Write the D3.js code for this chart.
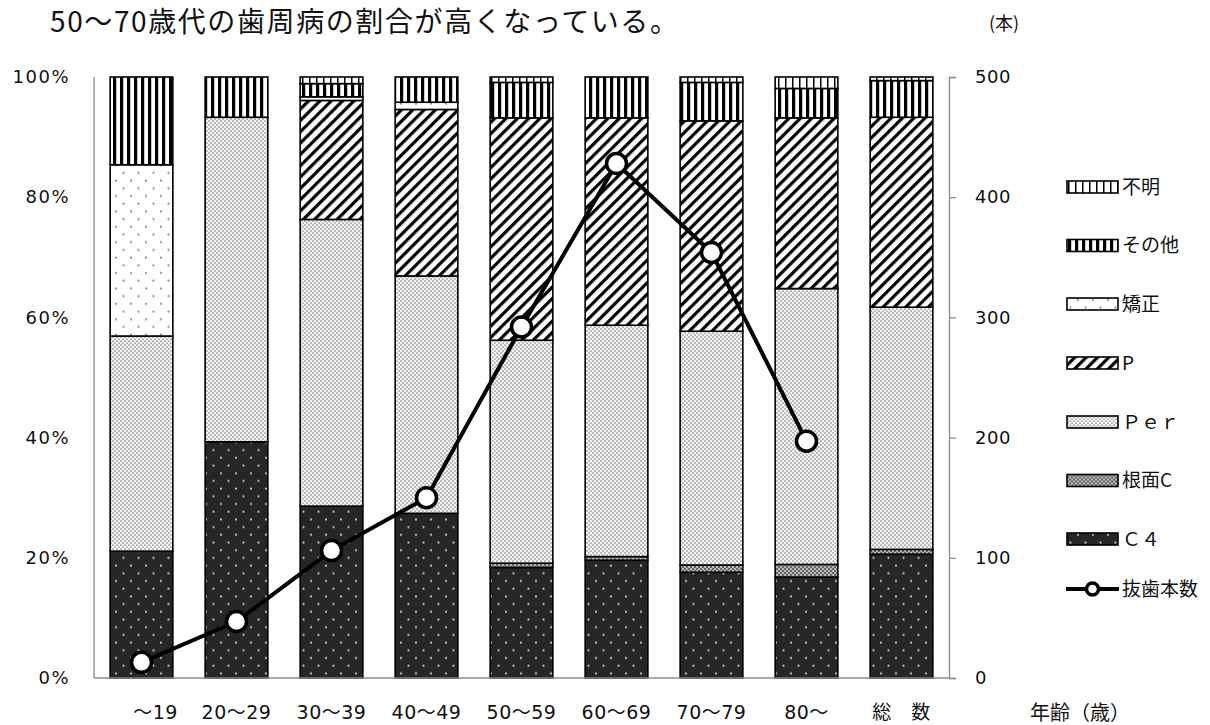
<!DOCTYPE html>
<html lang="ja">
<head>
<meta charset="utf-8">
<script src="https://cdn.jsdelivr.net/npm/d3@7"></script>
<style>
  html, body { margin: 0; padding: 0; background: #fff; }
  svg text { font-family: "Noto Sans CJK JP", "Noto Sans", sans-serif; fill: #111; }
  .num { font-family: "DejaVu Sans", "Noto Sans CJK JP", sans-serif; }
</style>
</head>
<body>
<svg id="chart" width="1210" height="725"></svg>
<script>
// 年齢階級ごとの抜歯理由の構成比（%）と抜歯本数
const categories = ["～19", "20～29", "30～39", "40～49", "50～59", "60～69", "70～79", "80～", "総　数"];

const c4       = [21.1, 39.3, 28.6, 27.4, 18.4, 19.6, 17.6, 16.8, 20.6];
const rootC    = [0,    0,    0,    0,    0.7,  0.6,  1.2,  2.1,  0.8];
const perio    = [35.8, 54.0, 47.7, 39.5, 37.1, 38.5, 38.9, 45.9, 40.3];
const pulp     = [0,    0,    19.8, 27.7, 37.0, 34.5, 35.0, 28.4, 31.6];
const ortho    = [28.5, 0,    0.6,  1.2,  0,    0,    0,    0,    0];
const other    = [14.6, 6.7,  2.2,  4.2,  5.9,  6.8,  6.4,  4.9,  6.1];
const unknown  = [0,    0,    1.1,  0,    0.9,  0,    0.9,  1.9,  0.6];

// 抜歯本数（総数は線に含めない）
const extractions = [13, 47, 106, 150, 292, 428, 354, 197];

const leftTicks  = [0, 20, 40, 60, 80, 100];
const rightTicks = [0, 100, 200, 300, 400, 500];

const seriesKeys   = ["c4", "rootC", "perio", "pulp", "ortho", "other", "unknown"];
const seriesLabels = { c4: "Ｃ４", rootC: "根面C", perio: "Ｐｅｒ", pulp: "P", ortho: "矯正", other: "その他", unknown: "不明" };
const seriesData   = { c4, rootC, perio, pulp, ortho, other, unknown };

const rows = categories.map((cat, i) => {
  const r = { cat };
  seriesKeys.forEach(k => r[k] = seriesData[k][i]);
  return r;
});

const svg = d3.select("#chart");
const defs = svg.append("defs");

// ---- hatch / dot patterns ----
function dotLattice(id, bg, dot, r) {
  const p = defs.append("pattern").attr("id", id).attr("patternUnits", "userSpaceOnUse")
    .attr("width", 15).attr("height", 15.4);
  p.append("rect").attr("width", 15).attr("height", 15.4).attr("fill", bg);
  p.append("circle").attr("cx", 3.5).attr("cy", 3.5).attr("r", r).attr("fill", dot);
  p.append("circle").attr("cx", 11).attr("cy", 11.2).attr("r", r).attr("fill", dot);
}
dotLattice("pat-c4", "#262626", "#c9c9c9", 1.1);
dotLattice("pat-ortho", "#ffffff", "#8a8a8a", 1.1);

function fineDots(id, bg, dot, size) {
  const p = defs.append("pattern").attr("id", id).attr("patternUnits", "userSpaceOnUse")
    .attr("width", 4).attr("height", 4);
  p.append("rect").attr("width", 4).attr("height", 4).attr("fill", bg);
  p.append("circle").attr("cx", 1).attr("cy", 1).attr("r", size).attr("fill", dot);
  p.append("circle").attr("cx", 3).attr("cy", 3).attr("r", size).attr("fill", dot);
}
fineDots("pat-perio", "#f4f4f4", "#888888", 0.85);
fineDots("pat-rootC", "#b8b8b8", "#4a4a4a", 1);

(function diag() {
  const p = defs.append("pattern").attr("id", "pat-pulp").attr("patternUnits", "userSpaceOnUse")
    .attr("width", 8).attr("height", 8).attr("patternTransform", "rotate(45)");
  p.append("rect").attr("width", 8).attr("height", 8).attr("fill", "#fff");
  p.append("rect").attr("x", 0).attr("width", 3.2).attr("height", 8).attr("fill", "#000");
})();

function vstripes(id, period, w) {
  const p = defs.append("pattern").attr("id", id).attr("patternUnits", "userSpaceOnUse")
    .attr("width", period).attr("height", 10);
  p.append("rect").attr("width", period).attr("height", 10).attr("fill", "#fff");
  p.append("rect").attr("x", 1).attr("width", w).attr("height", 10).attr("fill", "#000");
}
vstripes("pat-other", 7, 3.2);
vstripes("pat-unknown", 7, 1.5);

const fillOf = k => `url(#pat-${k})`;

// ---- scales ----
const plot = { left: 94, right: 949, top: 77, bottom: 678 };

const x = d3.scaleBand().domain(categories)
  .range([plot.left, plot.right]).paddingInner(0.34).paddingOuter(0.17);
const yPct = d3.scaleLinear().domain([0, 100]).range([plot.bottom, plot.top]);
const yCount = d3.scaleLinear().domain([0, 500]).range([plot.bottom, plot.top]);

// ---- stacked bars ----
const stacked = d3.stack().keys(seriesKeys)(rows);

const layers = svg.append("g").selectAll("g").data(stacked).join("g")
  .attr("fill", d => fillOf(d.key));

layers.selectAll("rect")
  .data(d => d.filter(s => s[1] - s[0] > 0))
  .join("rect")
  .attr("x", d => x(d.data.cat))
  .attr("width", x.bandwidth())
  .attr("y", d => yPct(d[1]))
  .attr("height", d => yPct(d[0]) - yPct(d[1]))
  .attr("stroke", "#000")
  .attr("stroke-width", 1.6);

// ---- axes ----
const axisColor = "#8c8c8c";

svg.append("line").attr("x1", plot.left).attr("x2", plot.left)
  .attr("y1", plot.top).attr("y2", plot.bottom).attr("stroke", axisColor).attr("stroke-width", 1.3);
svg.append("line").attr("x1", plot.left).attr("x2", plot.right)
  .attr("y1", plot.bottom).attr("y2", plot.bottom).attr("stroke", axisColor).attr("stroke-width", 1.3);

const leftAxis = svg.append("g").attr("transform", `translate(${plot.left},0)`)
  .call(d3.axisLeft(yPct).tickValues(leftTicks).tickFormat(d => d + "%").tickSize(0).tickPadding(24));
leftAxis.select(".domain").remove();
leftAxis.selectAll("text").attr("class", "num").style("font-size", "18px")
  .style("letter-spacing", "1.5px").attr("fill", "#111");

const rightAxis = svg.append("g").attr("transform", `translate(${plot.right},0)`)
  .call(d3.axisRight(yCount).tickValues(rightTicks).tickSize(7).tickPadding(19));
rightAxis.select(".domain").attr("stroke", axisColor).attr("stroke-width", 1.3);
rightAxis.selectAll(".tick line").attr("stroke", axisColor).attr("stroke-width", 1.3);
rightAxis.selectAll("text").attr("class", "num").style("font-size", "18px")
  .style("letter-spacing", "0.5px").attr("fill", "#111");

const bottomAxis = svg.append("g").attr("transform", `translate(0,${plot.bottom})`)
  .call(d3.axisBottom(x).tickSize(0).tickPadding(28));
bottomAxis.select(".domain").remove();
bottomAxis.selectAll("text").attr("class", "num").style("font-size", "19px")
  .style("letter-spacing", "0.5px").attr("fill", "#111")
  .attr("dx", d => d === categories[0] ? 14 : 0);

// ---- extraction count line ----
const linePts = extractions.map((v, i) => ({ cat: categories[i], v }));
const line = d3.line().x(d => x(d.cat) + x.bandwidth() / 2).y(d => yCount(d.v));

svg.append("path").datum(linePts).attr("d", line)
  .attr("fill", "none").attr("stroke", "#000").attr("stroke-width", 4).attr("stroke-linejoin", "round");

svg.append("g").selectAll("circle").data(linePts).join("circle")
  .attr("cx", d => x(d.cat) + x.bandwidth() / 2)
  .attr("cy", d => yCount(d.v))
  .attr("r", 10)
  .attr("fill", "#fff").attr("stroke", "#000").attr("stroke-width", 3.5);

// ---- texts ----
svg.append("text").attr("x", 50).attr("y", 32)
  .style("font-size", "28px").style("letter-spacing", "1.6px")
  .text("50～70歳代の歯周病の割合が高くなっている。");

svg.append("text").attr("x", 989).attr("y", 30)
  .style("font-size", "18px").text("(本)");

svg.append("text").attr("x", 1030).attr("y", 720)
  .style("font-size", "20px").text("年齢（歳）");

// ---- legend ----
const legendKeys = ["unknown", "other", "ortho", "pulp", "perio", "rootC", "c4"];
const legend = svg.append("g");
const legendY = [187, 245.5, 304, 363, 422, 480.5, 539, 589];

legendKeys.forEach((k, i) => {
  const g = legend.append("g").attr("transform", `translate(1067,${legendY[i]})`);
  g.append("rect").attr("x", 0).attr("y", -6).attr("width", 51).attr("height", 12)
    .attr("fill", fillOf(k)).attr("stroke", "#000").attr("stroke-width", 1.6);
  g.append("text").attr("x", 55).attr("y", 0).attr("dy", "0.35em")
    .style("font-size", "19px").text(seriesLabels[k]);
});

(function lineKey() {
  const g = legend.append("g").attr("transform", `translate(1066,${legendY[7]})`);
  g.append("line").attr("x1", 0).attr("x2", 53).attr("y1", 0).attr("y2", 0)
    .attr("stroke", "#000").attr("stroke-width", 4);
  g.append("circle").attr("cx", 26.5).attr("cy", 0).attr("r", 6)
    .attr("fill", "#fff").attr("stroke", "#000").attr("stroke-width", 3.5);
  g.append("text").attr("x", 56).attr("y", 0).attr("dy", "0.35em")
    .style("font-size", "19px").text("抜歯本数");
})();
</script>
</body>
</html>
